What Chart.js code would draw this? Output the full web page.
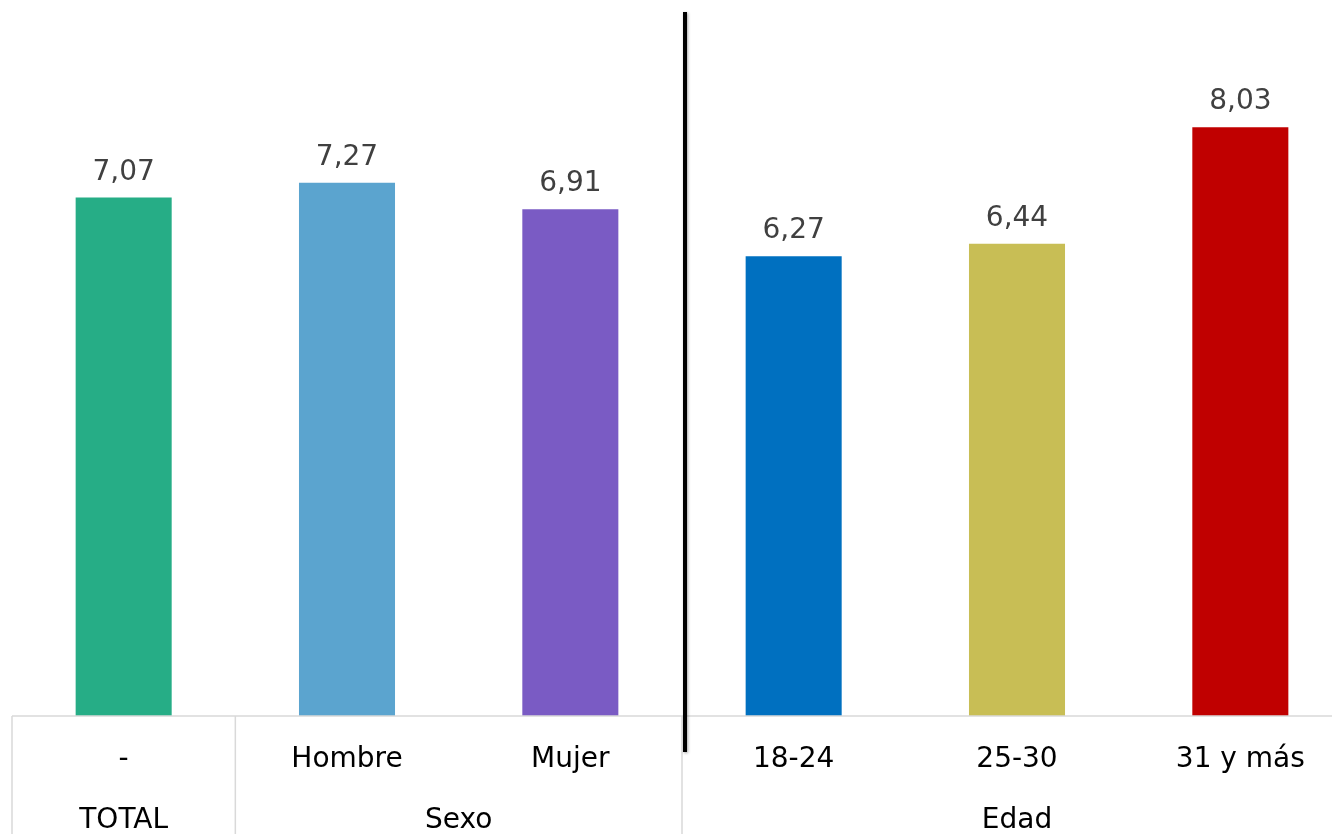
<!DOCTYPE html>
<html>
<head>
<meta charset="utf-8">
<script src="https://cdn.jsdelivr.net/npm/chart.js@4/dist/chart.umd.min.js"></script>
<style>
  html, body { margin: 0; padding: 0; background: #fff; overflow: hidden; }
  #wrap { width: 1352px; height: 834px; position: relative; }
</style>
</head>
<body>
<div id="wrap"><canvas id="chart"></canvas></div>
<script>
const categories = ['-', 'Hombre', 'Mujer', '18-24', '25-30', '31 y más'];
const values = [7.07, 7.27, 6.91, 6.27, 6.44, 8.03];
const barColors = ['#26AD86', '#5BA4CF', '#7A5BC4', '#0070C0', '#C8BE55', '#C00000'];
// group label, first and last category index
const groups = [
  { label: 'TOTAL', from: 0, to: 0 },
  { label: 'Sexo', from: 1, to: 2 },
  { label: 'Edad', from: 3, to: 5 }
];

const FONT = '"DejaVu Sans", sans-serif';

const valueLabels = {
  id: 'valueLabels',
  afterDatasetsDraw(chart) {
    const ctx = chart.ctx;
    const meta = chart.getDatasetMeta(0);
    ctx.save();
    ctx.font = '28px ' + FONT;
    ctx.fillStyle = '#404040';
    ctx.textAlign = 'center';
    ctx.textBaseline = 'alphabetic';
    meta.data.forEach((bar, i) => {
      ctx.fillText(values[i].toFixed(2).replace('.', ','), bar.x, bar.y - 18);
    });
    ctx.restore();
  }
};

const groupAxis = {
  id: 'groupAxis',
  afterDraw(chart) {
    const ctx = chart.ctx;
    const x = chart.scales.x;
    const area = chart.chartArea;
    const half = (x.getPixelForValue(1) - x.getPixelForValue(0)) / 2;
    const bottom = chart.height;
    ctx.save();
    // axis line and separators
    ctx.strokeStyle = '#d9d9d9';
    ctx.lineWidth = 1.5;
    ctx.beginPath();
    ctx.moveTo(area.left, area.bottom);
    ctx.lineTo(area.right, area.bottom);
    groups.forEach(g => {
      const gx = x.getPixelForValue(g.from) - half;
      ctx.moveTo(gx, area.bottom);
      ctx.lineTo(gx, bottom);
    });
    ctx.stroke();

    ctx.font = '28px ' + FONT;
    ctx.fillStyle = '#000';
    ctx.textAlign = 'center';
    ctx.textBaseline = 'middle';
    categories.forEach((c, i) => {
      ctx.fillText(c, x.getPixelForValue(i), area.bottom + 44);
    });
    groups.forEach(g => {
      const cx = (x.getPixelForValue(g.from) + x.getPixelForValue(g.to)) / 2;
      ctx.fillText(g.label, cx, area.bottom + 105);
    });

    // black divider between Sexo and Edad
    const dx = x.getPixelForValue(groups[2].from) - half + 3;
    ctx.shadowColor = 'rgba(0,0,0,0.35)';
    ctx.shadowBlur = 3;
    ctx.shadowOffsetX = 1;
    ctx.shadowOffsetY = 1;
    ctx.strokeStyle = '#000';
    ctx.lineWidth = 4;
    ctx.beginPath();
    ctx.moveTo(dx, area.top);
    ctx.lineTo(dx, area.bottom + 36);
    ctx.stroke();
    ctx.restore();
  }
};

new Chart(document.getElementById('chart'), {
  type: 'bar',
  data: {
    labels: categories,
    datasets: [{
      data: values,
      backgroundColor: barColors,
      borderWidth: 0,
      barPercentage: 0.43,
      categoryPercentage: 1
    }]
  },
  options: {
    responsive: true,
    maintainAspectRatio: false,
    animation: false,
    layout: { padding: { left: 12, right: 0, top: 12, bottom: 118 } },
    plugins: { legend: { display: false }, tooltip: { enabled: false } },
    scales: {
      x: { display: false, offset: true },
      y: { display: false, min: 0, max: 9.6 }
    }
  },
  plugins: [valueLabels, groupAxis]
});
</script>
</body>
</html>
